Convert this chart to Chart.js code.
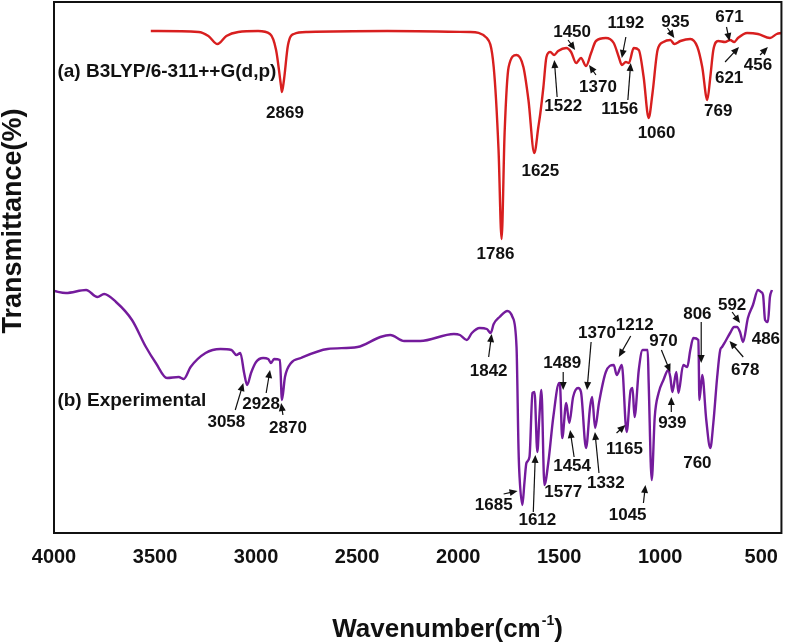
<!DOCTYPE html>
<html><head><meta charset="utf-8">
<script src="https://cdn.jsdelivr.net/npm/chart.js@4/dist/chart.umd.min.js"></script>
<style>html,body{margin:0;padding:0;background:#fff}</style>
</head><body>
<canvas id="c" width="790" height="643"></canvas>
<script>
// ---- tick labels ----
const xTickValues = [4000, 3500, 3000, 2500, 2000, 1500, 1000, 500];
const xTitle = 'Wavenumber(cm';
const xTitleSup = '-1';
const xTitleEnd = ')';
const yTitle = 'Transmittance(%)';

// ---- (a) calculated spectrum ----
const calcName = '(a) B3LYP/6-311++G(d,p)';
const calcWN = [3521,3285,3236,3191,3147,3088,2990,2931,2901,2877,2872,2862,2842,2813,2744,2351,1942,1858,1824,1800,1785,1770,1750,1711,1677,1652,1623,1603,1593,1578,1563,1544,1525,1505,1465,1441,1416,1392,1367,1342,1318,1269,1230,1205,1190,1170,1155,1131,1106,1082,1057,1038,1013,984,950,930,900,851,816,792,767,752,737,713,679,654,634,615,570,516,457,423,400];
const calcT  = [502,501,497,489,497,501,502,499,483,448,441,453,488,499,501,502,501,495,466,383,294,400,466,478,466,433,380,406,420,446,476,481,478,482,485,481,470,475,467,480,492,495,490,476,468,471,470,485,483,456,415,440,483,491,493,489,492,494,486,466,433,456,483,492,491,493,491,495,500,499,495,499,500];

// ---- (b) experimental spectrum ----
const expName = '(b) Experimental';
const expWN = [4000,3941,3841,3785,3752,3693,3614,3545,3496,3441,3383,3358,3324,3250,3176,3122,3097,3078,3059,3044,3025,3000,2965,2940,2926,2911,2882,2872,2857,2827,2778,2646,2498,2385,2336,2267,2188,2021,1991,1957,1932,1893,1858,1839,1824,1795,1756,1731,1711,1701,1696,1682,1672,1662,1647,1632,1622,1608,1598,1588,1573,1554,1529,1500,1495,1485,1465,1450,1431,1406,1392,1367,1347,1337,1322,1303,1269,1230,1215,1190,1166,1146,1137,1127,1106,1087,1062,1057,1042,1027,1008,984,960,950,940,920,910,886,866,851,836,811,806,792,772,752,737,718,703,694,679,654,634,620,605,590,566,541,516,501,491,481,467,457,447];
const expT  = [242,240,243,236,239,231,213,186,170,155,156,154,166,180,184,183,178,180,160,148,160,171,175,174,170,174,173,133,156,170,175,184,186,196,198,192,192,199,198,193,200,205,204,200,209,216,222,216,186,83,56,28,50,70,76,140,141,81,116,143,48,70,116,150,146,95,130,110,136,145,141,85,126,136,105,130,161,168,158,168,101,143,145,116,163,183,183,150,53,116,140,153,163,156,141,161,140,168,166,183,195,193,133,158,113,85,110,156,183,186,191,200,206,206,201,191,215,228,243,241,238,213,211,236,243];

// ---- peak annotations: [text, wavenumber, level] ----
const calcPeakLabels = [
  ['2869',2857,420],['1450',1436,501],['1192',1170,510],['935',925,511],['671',657,516],
  ['1522',1480,427],['1370',1308,446],['1156',1200,424],['1060',1018,400],['769',713,422],
  ['621',659,455],['456',516,468],['1625',1593,362],['1786',1815,279]
];
// [from wavenumber, from level, to wavenumber, to level]
const calcPeakArrows = [
  [1456,493,1421,483],[1170,496,1190,475],[964,505,930,495],[672,506,657,492],
  [1510,436,1524,473],[1318,458,1352,468],[1160,433,1146,470],[679,471,610,486],[506,478,467,486]
];
const expPeakLabels = [
  ['3058',3147,111],['2928',2975,129],['2870',2842,105],['1842',1849,162],['1370',1313,200],
  ['1212',1126,208],['1489',1485,170],['970',984,192],['806',816,219],['592',644,228],
  ['486',477,194],['678',579,163],['1454',1436,67],['1332',1269,50],['1577',1480,41],
  ['1685',1824,28],['1612',1608,13],['1165',1177,84],['1045',1161,18],['939',940,110],['760',816,70]
];
const expPeakArrows = [
  [3103,123,3063,150],[2950,140,2931,163],[2867,118,2876,130],[1849,176,1834,199],
  [1342,191,1362,143],[1146,197,1205,176],[1480,161,1480,143],[994,183,950,161],
  [797,211,797,170],[644,221,605,210],[589,176,657,192],[1426,76,1446,103],
  [1303,60,1323,101],[1775,39,1706,42],[1628,21,1618,78],[1216,100,1172,108],
  [1083,30,1073,48],[945,121,945,136]
];
const seriesNameAnchors = [[calcName,3983,461],[expName,3983,132]];

const FONT = '"Liberation Sans", Arial, Helvetica, sans-serif';

function toXY(xs, ys){ return xs.map((x,i)=>({x:x, y:ys[i]})); }

function drawArrow(ctx, x1, y1, x2, y2){
  const a = Math.atan2(y2-y1, x2-x1);
  const L = 8, W = 3.5;
  ctx.beginPath();
  ctx.moveTo(x1, y1);
  ctx.lineTo(x2 - L*0.7*Math.cos(a), y2 - L*0.7*Math.sin(a));
  ctx.stroke();
  ctx.beginPath();
  ctx.moveTo(x2, y2);
  ctx.lineTo(x2 - L*Math.cos(a) + W*Math.sin(a), y2 - L*Math.sin(a) - W*Math.cos(a));
  ctx.lineTo(x2 - L*Math.cos(a) - W*Math.sin(a), y2 - L*Math.sin(a) + W*Math.cos(a));
  ctx.closePath();
  ctx.fill();
}

const decor = {
  id:'decor',
  afterDraw(chart){
    const ctx = chart.ctx, xs = chart.scales.x, ys = chart.scales.y, ca = chart.chartArea;
    ctx.save();
    // frame
    ctx.strokeStyle = '#111'; ctx.lineWidth = 2;
    ctx.strokeRect(ca.left, ca.top, ca.right-ca.left, ca.bottom-ca.top);
    // series names
    ctx.fillStyle = '#111';
    ctx.font = 'bold 19px ' + FONT;
    ctx.textAlign = 'left'; ctx.textBaseline = 'middle';
    seriesNameAnchors.forEach(([t,x,y])=>ctx.fillText(t, xs.getPixelForValue(x), ys.getPixelForValue(y)));
    // peak labels
    ctx.font = 'bold 17px ' + FONT;
    ctx.textAlign = 'center';
    [...calcPeakLabels, ...expPeakLabels].forEach(([t,x,y])=>ctx.fillText(t, xs.getPixelForValue(x), ys.getPixelForValue(y)));
    // arrows
    ctx.strokeStyle = '#111'; ctx.lineWidth = 1.2;
    [...calcPeakArrows, ...expPeakArrows].forEach(([a,b,c,d])=>drawArrow(ctx, xs.getPixelForValue(a), ys.getPixelForValue(b), xs.getPixelForValue(c), ys.getPixelForValue(d)));
    // y title
    ctx.save();
    ctx.translate(14, 221);
    ctx.rotate(-Math.PI/2);
    ctx.font = 'bold 27px ' + FONT;
    ctx.textAlign = 'center'; ctx.textBaseline = 'middle';
    ctx.fillText(yTitle, 0, 0);
    ctx.restore();
    // x title with superscript
    ctx.textAlign = 'left'; ctx.textBaseline = 'alphabetic';
    ctx.font = 'bold 26px ' + FONT;
    const w1 = ctx.measureText(xTitle).width, w3 = ctx.measureText(xTitleEnd).width;
    ctx.font = 'bold 14px ' + FONT;
    const w2 = ctx.measureText(xTitleSup).width;
    let x0 = 447 - (w1+w2+w3)/2;
    const base = 637;
    ctx.font = 'bold 26px ' + FONT;
    ctx.fillText(xTitle, x0, base);
    ctx.font = 'bold 14px ' + FONT;
    ctx.fillText(xTitleSup, x0 + w1 + 1, base - 12);
    ctx.font = 'bold 26px ' + FONT;
    ctx.fillText(xTitleEnd, x0 + w1 + w2 + 1, base);
    ctx.restore();
  }
};

new Chart(document.getElementById('c'), {
  type: 'line',
  data: {
    datasets: [
      { label: calcName, data: toXY(calcWN, calcT), borderColor: '#d81f1f', borderWidth: 2.4,
        pointRadius: 0, fill: false, cubicInterpolationMode: 'monotone' },
      { label: expName, data: toXY(expWN, expT), borderColor: '#741b9c', borderWidth: 2.4,
        pointRadius: 0, fill: false, cubicInterpolationMode: 'monotone' }
    ]
  },
  options: {
    responsive: false, animation: false, devicePixelRatio: 1,
    layout: { padding: { top: 2, right: 3, left: 0, bottom: 0 } },
    plugins: { legend: { display: false }, tooltip: { enabled: false } },
    scales: {
      x: {
        type: 'linear', reverse: true, min: 400, max: 4000,
        afterBuildTicks: s => { s.ticks = xTickValues.map(v => ({ value: v })); },
        ticks: { font: { family: FONT, size: 20, weight: 'bold' }, color: '#111', padding: 12,
                 maxRotation: 0, autoSkip: false, callback: v => String(v) },
        grid: { display: false, drawTicks: false },
        border: { display: false },
        afterFit: s => { s.height = 110; }
      },
      y: {
        min: 0, max: 531,
        ticks: { display: false },
        grid: { display: false, drawTicks: false },
        border: { display: false },
        afterFit: s => { s.width = 54; }
      }
    }
  },
  plugins: [decor]
});
</script>
</body></html>
